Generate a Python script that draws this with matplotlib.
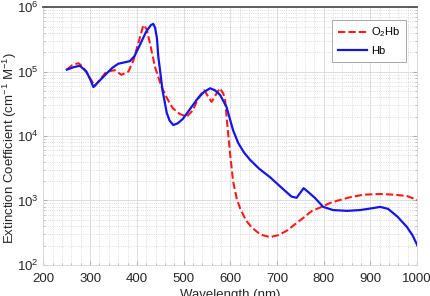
import matplotlib
matplotlib.use("Agg")
import matplotlib.pyplot as plt
from matplotlib.ticker import MultipleLocator, LogLocator

plt.rcParams['font.family'] = ['Liberation Sans', 'DejaVu Sans']
plt.rcParams['mathtext.fontset'] = 'custom'
plt.rcParams['mathtext.rm'] = 'Liberation Sans'
plt.rcParams['mathtext.it'] = 'Liberation Sans'

# O2Hb (rood, gestreept)
wl_o2hb = [250, 262, 275, 285, 298, 310, 322, 335, 353, 367, 382, 393, 403, 414,
           421, 428, 439, 453, 465, 477, 492, 507, 520, 532, 544, 552, 560, 569,
           578, 585, 589, 594, 600, 606, 614, 621, 633, 646, 665, 685, 703, 721,
           740, 756, 775, 792, 813, 831, 856, 885, 921, 950, 978, 1000]
eps_o2hb = [1.07e5, 1.26e5, 1.35e5, 1.17e5, 8.3e4, 6.0e4, 7.6e4, 1.0e5, 1.05e5,
            8.9e4, 1.0e5, 1.51e5, 2.75e5, 5.25e5, 4.57e5, 2.75e5, 1.17e5, 5.75e4,
            3.8e4, 2.69e4, 2.19e4, 2.0e4, 2.51e4, 3.98e4, 5.13e4, 4.17e4, 3.39e4,
            4.37e4, 5.5e4, 4.57e4, 3.63e4, 1.41e4, 5.0e3, 2.0e3, 1050, 760, 500,
            380, 295, 270, 290, 340, 435, 535, 690, 775, 910, 1000, 1120, 1230,
            1260, 1230, 1175, 1020]

# Hb (blauw)
wl_hb = [250, 265, 278, 292, 300, 307, 320, 335, 348, 360, 385, 395, 407, 420,
         430, 435, 439, 443, 446, 455, 464, 470, 478, 488, 499, 514, 528, 543,
         557, 567, 578, 592, 606, 617, 629, 642, 662, 685, 708, 731, 742, 750,
         757, 764, 781, 799, 820, 850, 878, 905, 921, 938, 958, 978, 990, 1000]
eps_hb = [1.07e5, 1.17e5, 1.23e5, 1.0e5, 7.6e4, 5.75e4, 7.2e4, 9.3e4, 1.15e5,
          1.32e5, 1.45e5, 1.74e5, 2.63e5, 4.17e5, 5.25e5, 5.5e5, 4.8e5, 3.3e5,
          1.7e5, 5.1e4, 2.29e4, 1.74e4, 1.48e4, 1.58e4, 1.86e4, 2.63e4, 3.63e4,
          4.79e4, 5.5e4, 5.13e4, 4.37e4, 2.82e4, 1.23e4, 7.8e3, 5.6e3, 4.3e3,
          3.1e3, 2.3e3, 1.62e3, 1.15e3, 1.1e3, 1.32e3, 1.55e3, 1.41e3, 1.1e3,
          795, 710, 690, 710, 760, 795, 740, 560, 390, 290, 205]

fig = plt.figure(figsize=(4.30, 2.96), dpi=100)
ax = fig.add_axes([0.101, 0.105, 0.869, 0.871])

ax.plot(wl_o2hb, eps_o2hb, color='#ff1a1a', linestyle='--', dashes=(3.5, 1.5),
        linewidth=1.5, label='O$_2$Hb')
ax.plot(wl_hb, eps_hb, color='#1515e6', linewidth=1.6, label='Hb')

ax.set_yscale('log')
ax.set_xlim(200, 1000)
ax.set_ylim(1e2, 1e6)
ax.xaxis.set_major_locator(MultipleLocator(100))
ax.xaxis.set_minor_locator(MultipleLocator(20))
ax.yaxis.set_minor_locator(LogLocator(base=10, subs=range(2, 10)))

# Raster
ax.grid(which='major', color='#d8d8d8', linestyle='-', linewidth=0.6)
ax.grid(which='minor', color='#d0d0d0', linestyle=':', linewidth=0.6)
ax.set_axisbelow(True)

for kant in ['left', 'bottom', 'right']:
    ax.spines[kant].set_color('#d6d6d6')
    ax.spines[kant].set_linewidth(0.6)
ax.spines['top'].set_color('#505050')
ax.spines['top'].set_linewidth(1.3)

ax.tick_params(which='both', direction='in', colors='#b0b0b0',
               labelcolor='#262626', labelsize=9.5, right=True)
ax.tick_params(which='major', length=3)
ax.tick_params(which='minor', length=1.5)
ax.tick_params(axis='x', pad=6)

ax.set_xlabel('Wavelength (nm)', fontsize=9.5, color='#262626', labelpad=3)
ax.set_ylabel('Extinction Coefficient (cm$^{-1}$ M$^{-1}$)', fontsize=9.5,
              color='#262626')
ax.yaxis.set_label_coords(-0.066, 0.455)

leg = ax.legend(loc='upper right', bbox_to_anchor=(0.97, 0.95), fontsize=8,
                handlelength=2.6, handletextpad=0.4, fancybox=False,
                framealpha=1, edgecolor='#a8a8a8', borderpad=0.5,
                labelspacing=0.6, borderaxespad=0)
leg.get_frame().set_linewidth(0.7)

fig.savefig('out.png', dpi=100)
